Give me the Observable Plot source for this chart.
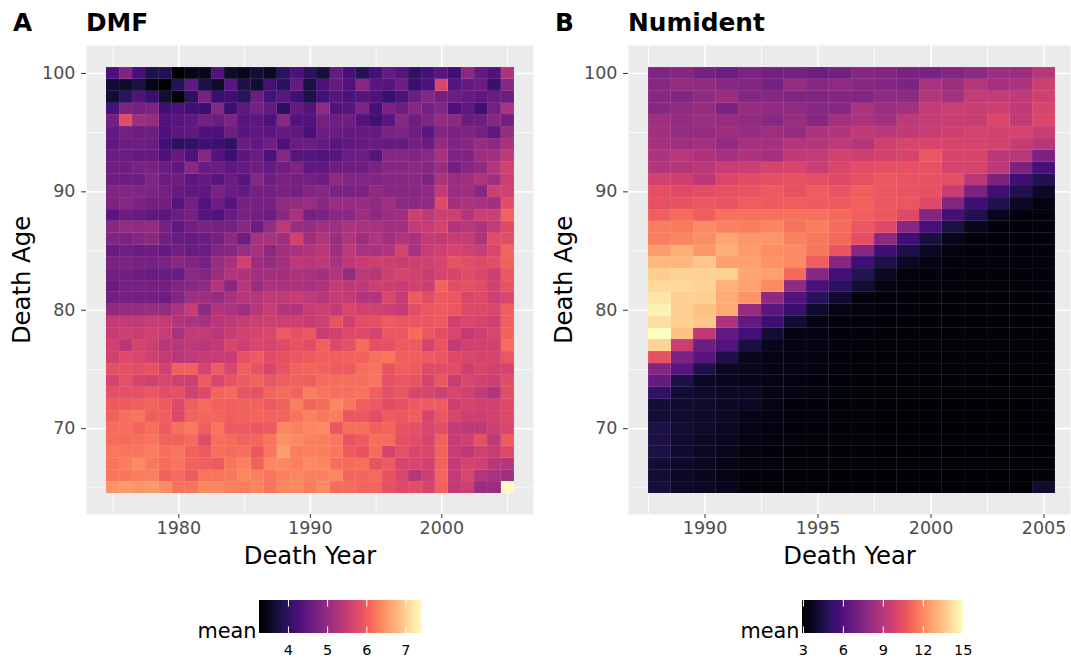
<!DOCTYPE html>
<html>
<head>
<meta charset="utf-8">
<script src="https://cdn.jsdelivr.net/npm/d3@7"></script>
<script src="https://cdn.jsdelivr.net/npm/@observablehq/plot@0.6"></script>
<style>
html,body{margin:0;padding:0;background:#fff;}
#page{position:relative;width:1071px;height:661px;overflow:hidden;font-family:"DejaVu Sans",sans-serif;}
#page>div{position:absolute;}
#page svg{display:block;background:transparent;overflow:visible;}
.ttl{font-weight:700;font-size:24.8px;line-height:28px;color:#000;white-space:nowrap;}
</style>
</head>
<body>
<div id="page"></div>
<script>
const ages = [100,99,98,97,96,95,94,93,92,91,90,89,88,87,86,85,84,83,82,81,80,79,78,77,76,75,74,73,72,71,70,69,68,67,66,65];
const dmfYears = [1975,1976,1977,1978,1979,1980,1981,1982,1983,1984,1985,1986,1987,1988,1989,1990,1991,1992,1993,1994,1995,1996,1997,1998,1999,2000,2001,2002,2003,2004,2005];
const numidentYears = [1988,1989,1990,1991,1992,1993,1994,1995,1996,1997,1998,1999,2000,2001,2002,2003,2004,2005];

const dmfRows = [
[4.25,4.8,4.2,3.8,3.85,3.27,3.45,3.5,4.3,3.6,3.5,3.65,3.55,3.95,4.25,3.95,3.7,4.5,4.2,3.9,4.2,4.5,4.35,4.0,4.2,4.4,4.15,4.9,4.5,4.3,5.25],
[3.65,3.6,3.75,3.45,3.3,3.9,4.45,3.8,3.6,4.4,3.8,3.65,4.2,3.95,4.5,3.75,4.25,4.5,4.3,4.85,4.4,4.35,4.6,4.1,4.25,5.7,4.35,4.5,4.6,4.1,4.85],
[3.65,3.95,4.3,4.1,3.65,3.35,3.95,4.7,4.1,4.15,3.95,4.6,4.2,4.4,4.15,3.8,4.2,4.35,4.25,4.35,4.3,4.05,4.25,4.6,4.85,4.7,4.6,4.5,4.45,4.55,4.6],
[4.2,4.77,4.67,4.77,4.15,4.27,4.15,4.1,4.85,4.1,4.47,4.67,4.52,3.95,4.52,4.32,4.95,4.32,4.37,4.77,4.2,4.72,4.62,4.85,4.67,4.8,4.27,4.47,4.15,4.67,5.25],
[4.67,5.8,5.1,5.0,4.32,4.37,4.47,4.67,4.57,4.77,4.37,4.42,4.27,4.85,4.32,4.32,4.67,4.62,4.62,4.32,4.15,4.37,4.85,4.62,4.77,5.0,4.9,4.57,4.62,4.85,4.67],
[4.52,4.67,4.57,4.62,4.27,4.42,4.47,4.27,4.27,4.62,4.37,4.47,4.42,4.52,4.47,4.22,4.62,4.57,4.52,4.52,4.52,4.72,4.77,4.62,4.42,4.8,4.72,4.77,4.67,4.47,5.0],
[4.47,4.57,4.62,4.57,4.15,3.95,4.0,4.15,4.1,4.0,4.57,4.47,4.62,4.27,4.57,4.57,4.52,4.37,4.47,4.52,4.57,4.52,4.52,4.67,4.57,5.0,4.77,4.85,5.0,4.9,5.2],
[4.57,4.57,4.52,4.52,4.27,4.52,4.27,4.85,4.32,4.1,4.42,4.57,4.27,4.85,4.37,4.37,4.32,4.37,4.57,4.57,4.37,4.85,4.85,4.77,4.9,5.2,4.77,4.77,5.1,5.15,5.4],
[4.62,4.62,4.72,4.72,4.57,4.47,4.9,4.57,4.57,4.47,4.52,4.62,4.52,4.62,4.77,4.47,4.47,4.62,4.62,4.62,4.72,4.85,4.85,4.9,4.85,5.05,4.67,4.85,4.95,5.3,5.6],
[4.62,4.62,4.57,4.77,4.57,4.62,4.42,4.52,4.37,4.57,4.37,4.85,4.62,4.72,4.67,4.67,4.57,4.95,4.8,4.8,4.8,4.85,4.85,4.9,4.77,5.25,5.05,5.1,5.3,5.15,5.55],
[4.8,4.8,4.8,4.77,4.67,4.52,4.47,4.47,4.72,4.57,4.52,4.67,4.67,4.72,4.67,4.8,4.85,4.72,4.72,4.72,4.95,4.85,4.85,4.85,4.95,5.45,5.05,5.1,4.85,5.55,5.6],
[4.75,4.85,4.75,4.65,4.65,4.35,4.65,4.3,4.6,4.35,4.7,4.7,4.7,4.95,5.0,5.05,4.85,5.05,5.0,5.0,4.95,5.1,4.9,4.9,4.95,5.75,5.15,5.25,5.2,5.15,5.8],
[4.4,4.6,4.55,4.45,4.4,4.6,4.7,4.35,4.3,4.55,4.7,4.65,4.6,4.9,5.2,4.7,4.75,4.85,4.85,5.1,4.9,5.05,5.1,5.55,5.4,5.55,5.55,5.3,5.55,5.55,6.04],
[4.85,5.0,4.95,5.0,4.7,4.45,4.65,4.75,4.7,4.7,4.85,4.6,5.0,5.4,5.05,5.0,5.15,5.1,5.25,5.2,5.2,5.1,5.15,5.45,5.5,5.65,5.3,5.35,5.25,5.45,5.75],
[4.8,4.75,4.85,4.9,4.65,4.55,4.5,4.6,4.7,4.9,4.6,5.2,5.2,5.1,5.6,5.1,5.3,5.05,5.3,5.1,5.3,5.15,5.3,5.2,5.45,5.45,5.5,5.5,5.25,5.8,5.8],
[4.55,4.65,4.55,4.6,4.5,4.65,4.55,4.6,4.8,4.85,5.05,5.2,4.9,5.15,5.2,5.3,5.35,5.1,5.4,5.2,5.2,5.3,5.65,5.2,5.5,5.6,5.65,5.6,5.5,5.7,6.08],
[4.75,4.75,4.7,4.7,4.75,4.9,4.8,4.7,5.05,5.2,5.6,5.1,5.0,5.15,5.4,5.35,5.4,5.2,5.4,5.5,5.55,5.55,5.5,5.55,5.6,5.65,5.88,5.8,5.75,5.8,6.04],
[4.65,4.65,4.6,4.55,4.55,4.55,4.9,4.8,5.05,5.3,5.25,5.15,5.15,5.15,5.25,5.2,5.15,5.3,5.0,5.4,5.35,5.55,5.65,5.6,5.5,5.65,5.65,5.8,5.7,5.55,5.92],
[4.55,4.7,4.7,4.7,4.65,4.8,4.85,4.95,5.3,4.85,5.35,5.05,5.25,5.2,5.25,5.2,5.25,5.45,5.4,5.4,5.55,5.55,5.5,5.6,5.55,6.04,5.8,5.84,5.8,5.6,5.88],
[4.65,4.7,4.65,4.65,4.6,4.8,5.1,5.1,5.0,5.2,5.35,5.35,5.4,5.4,5.5,5.4,5.35,5.5,5.45,5.3,5.3,5.7,5.45,5.96,5.8,5.96,5.92,5.7,5.75,5.55,5.7],
[4.95,5.0,5.0,5.05,5.0,5.25,5.5,4.9,5.3,5.25,5.1,5.35,5.5,5.3,5.3,5.5,5.55,5.45,5.7,5.6,5.6,5.55,5.45,5.8,5.92,5.96,5.92,5.75,5.75,5.7,6.0],
[5.45,5.45,5.4,5.5,5.45,5.3,5.25,5.2,5.35,5.4,5.5,5.55,5.55,5.55,5.55,5.5,5.55,5.88,5.6,5.8,5.84,5.96,5.92,5.92,5.92,5.96,5.6,5.7,5.65,5.55,6.0],
[5.5,5.55,5.5,5.6,5.5,5.2,5.45,5.45,5.35,5.5,5.6,5.65,5.7,5.96,5.84,5.92,5.5,5.6,5.75,5.75,5.65,5.92,5.92,6.12,5.92,5.8,5.7,5.45,5.55,5.7,6.04],
[5.6,5.35,5.65,5.55,5.35,5.35,5.4,5.35,5.45,5.7,5.55,5.7,5.65,5.75,5.88,5.8,6.0,5.75,5.84,6.12,5.84,5.84,5.96,5.96,5.65,5.88,5.45,5.6,5.6,5.6,6.12],
[5.6,5.75,5.7,5.6,5.45,5.35,5.4,5.45,5.5,5.5,5.84,5.96,5.8,5.84,5.92,5.96,6.0,6.0,6.04,6.04,6.16,6.2,6.0,6.0,5.96,5.92,5.75,5.7,5.65,5.65,5.92],
[5.84,5.84,5.8,5.88,5.6,6.0,6.0,5.65,5.96,5.7,6.0,5.88,5.7,5.88,6.04,6.08,6.04,5.96,5.96,6.16,6.2,5.88,6.0,5.96,5.75,5.8,5.8,5.55,5.7,5.6,5.65],
[5.65,5.84,5.65,5.6,5.7,5.6,5.55,5.96,5.7,5.88,5.96,6.04,5.92,6.0,6.04,6.0,6.12,6.16,6.16,6.16,6.2,5.84,5.92,5.88,5.65,5.92,5.5,5.7,5.6,5.55,5.8],
[5.84,5.84,5.84,5.92,5.8,5.84,5.6,5.75,6.08,6.12,5.88,5.84,6.08,6.12,6.08,6.28,6.2,6.16,6.16,6.2,6.0,5.84,5.92,5.7,5.7,5.55,5.7,5.6,5.45,5.3,5.8],
[5.96,5.96,6.0,6.08,5.96,5.75,6.0,6.12,6.04,6.0,6.04,6.04,5.96,6.04,6.32,6.08,6.12,6.36,6.24,6.0,5.96,5.8,5.84,5.96,5.96,5.96,5.55,5.65,5.6,5.6,5.75],
[6.04,6.16,6.2,6.0,6.0,5.75,6.08,6.08,6.08,6.0,6.04,6.08,6.08,6.08,6.2,6.32,6.24,6.28,5.92,5.92,5.8,5.96,5.92,6.0,5.7,5.92,5.7,5.55,5.55,5.6,5.75],
[6.16,6.16,6.08,6.16,5.96,6.16,6.24,6.0,6.2,5.96,5.96,5.92,5.96,6.36,6.32,6.36,6.4,5.92,6.16,6.16,6.0,6.08,5.88,5.84,5.7,5.8,5.45,5.4,5.4,5.55,5.7],
[6.12,6.12,6.16,6.2,6.04,6.04,6.12,5.8,6.16,6.12,6.04,6.08,6.2,6.44,6.4,6.32,6.28,6.24,5.88,5.96,6.16,6.12,5.84,5.8,5.65,6.04,5.5,5.6,5.84,5.4,5.96],
[6.24,6.2,6.2,6.28,6.16,6.2,6.04,5.96,6.16,6.12,6.16,5.92,6.24,6.56,6.28,6.32,6.28,6.24,5.96,5.88,6.12,5.65,5.84,5.7,5.7,6.04,5.5,5.4,5.6,5.5,5.75],
[6.24,6.28,6.4,6.24,6.12,6.2,6.04,6.0,5.96,6.2,6.32,6.04,6.36,6.36,6.28,6.4,6.36,6.16,6.12,6.16,5.88,5.96,5.65,5.7,5.6,6.04,5.45,5.65,5.6,5.35,5.35],
[6.24,6.24,6.28,6.32,6.04,6.12,5.96,6.2,6.2,6.24,6.36,6.28,6.2,6.32,6.36,6.32,6.32,6.36,6.08,6.08,6.12,5.88,5.7,5.35,5.55,6.08,5.45,5.7,5.3,5.2,5.1],
[6.48,6.52,6.48,6.52,6.4,6.2,6.2,6.36,6.36,6.32,6.28,6.36,6.2,6.36,6.4,6.28,6.4,6.12,6.12,6.08,6.08,5.84,5.75,5.8,5.65,6.04,5.45,5.55,5.05,5.05,7.41]
];

const numidentRows = [
[7.4,7.6,7.1,6.8,7.3,7.0,7.1,6.8,7.0,7.6,7.5,7.2,7.2,7.5,7.7,8.2,8.2,9.0],
[7.6,8.0,7.9,7.6,7.5,7.0,8.0,7.6,7.8,7.6,7.5,7.3,8.6,8.2,8.9,8.5,8.7,9.6],
[7.6,7.4,7.9,8.2,7.5,7.6,7.4,7.4,7.5,7.5,7.8,7.8,8.9,8.5,9.4,9.4,9.3,9.7],
[7.6,7.9,8.0,7.3,8.1,7.9,7.8,7.6,7.6,8.7,8.2,8.5,9.4,9.6,9.5,9.6,9.3,10.0],
[8.3,8.0,8.2,8.1,7.9,7.6,8.1,7.6,8.4,8.6,8.4,9.2,9.4,9.5,9.5,10.1,9.3,10.1],
[8.4,8.0,8.0,8.2,8.0,8.3,8.0,8.7,8.8,9.3,9.1,9.3,9.5,9.7,9.9,9.8,9.9,9.5],
[8.5,8.3,8.4,7.9,8.5,8.5,8.9,8.9,9.2,8.9,9.7,10.0,10.0,9.9,9.9,9.8,9.4,9.0],
[8.7,9.0,8.7,8.5,8.7,8.5,9.2,9.4,9.8,9.6,9.8,9.9,10.7,10.0,10.0,9.1,9.0,7.3],
[8.9,8.9,9.1,9.5,9.6,9.9,10.0,9.5,10.1,10.3,10.4,10.45,10.5,9.9,9.9,9.2,7.3,5.7],
[9.8,9.7,9.1,10.1,10.3,10.4,10.55,10.4,10.2,10.45,10.75,10.6,10.5,10.4,9.1,7.3,5.5,4.6],
[10.4,10.2,10.3,10.5,10.6,10.85,10.5,10.9,10.6,10.9,10.75,10.6,10.5,9.5,7.3,5.5,4.6,3.8],
[10.45,10.55,10.75,10.6,10.9,10.85,10.9,10.85,10.85,11.0,10.75,10.7,10.2,7.4,5.5,4.6,3.7,3.3],
[10.95,11.3,10.9,11.4,11.4,11.4,11.4,11.4,11.2,10.95,10.75,10.2,7.5,5.6,4.6,3.6,3.25,3.2],
[11.75,11.65,12.05,11.85,11.75,11.95,11.45,11.75,11.3,10.7,10.2,7.6,5.7,4.4,3.6,3.25,3.15,3.2],
[11.75,11.95,12.15,12.75,12.35,12.35,11.85,11.55,11.2,10.4,7.7,5.5,4.3,3.5,3.25,3.15,3.15,3.2],
[12.5,13.0,12.35,13.0,12.5,12.15,12.05,11.55,10.6,7.6,5.5,4.5,3.7,3.3,3.25,3.2,3.2,3.25],
[13.2,13.2,13.6,12.6,12.6,12.25,12.05,10.9,7.6,5.5,4.5,3.7,3.4,3.3,3.25,3.2,3.15,3.2],
[13.7,13.85,13.85,13.85,12.75,12.6,11.2,7.6,5.6,4.7,3.7,3.3,3.2,3.15,3.15,3.1,3.15,3.15],
[14.0,14.0,13.9,13.0,12.7,12.0,7.8,5.8,5.0,4.1,3.4,3.2,3.15,3.15,3.1,3.1,3.1,3.15],
[14.4,13.8,13.8,12.9,12.3,7.8,6.0,4.9,4.0,3.3,3.2,3.15,3.1,3.1,3.1,3.1,3.1,3.15],
[14.7,13.8,13.5,12.85,8.0,6.3,5.3,4.0,3.4,3.3,3.2,3.15,3.1,3.1,3.1,3.1,3.1,3.1],
[14.2,13.8,13.6,8.7,6.5,5.4,4.1,3.4,3.3,3.25,3.15,3.1,3.1,3.1,3.05,3.05,3.1,3.1],
[15.0,13.5,9.3,6.5,5.6,4.1,3.35,3.3,3.25,3.2,3.1,3.1,3.05,3.05,3.05,3.05,3.05,3.1],
[13.9,9.5,6.8,6.0,4.3,3.55,3.4,3.35,3.25,3.15,3.1,3.05,3.05,3.05,3.05,3.05,3.05,3.05],
[10.5,7.2,6.2,4.5,3.6,3.4,3.35,3.3,3.25,3.1,3.05,3.05,3.05,3.05,3.05,3.05,3.05,3.05],
[7.5,6.2,4.5,3.7,3.6,3.45,3.4,3.35,3.2,3.1,3.05,3.05,3.05,3.05,3.05,3.05,3.05,3.05],
[6.6,4.5,3.7,3.6,3.5,3.4,3.3,3.25,3.15,3.1,3.05,3.05,3.05,3.05,3.05,3.0,3.0,3.05],
[5.1,4.1,3.95,3.8,3.75,3.45,3.35,3.2,3.15,3.1,3.05,3.05,3.05,3.0,3.0,3.0,3.0,3.05],
[4.15,4.0,3.95,3.75,3.7,3.4,3.25,3.2,3.1,3.1,3.05,3.0,3.0,3.0,3.0,3.0,3.0,3.05],
[4.15,4.0,3.9,3.8,3.45,3.35,3.25,3.15,3.1,3.1,3.0,3.0,3.0,3.0,3.0,3.0,3.0,3.05],
[4.4,4.05,3.95,3.7,3.4,3.3,3.2,3.15,3.1,3.05,3.0,3.0,3.0,3.0,3.0,3.0,3.0,3.0],
[4.4,4.0,3.75,3.6,3.35,3.25,3.2,3.1,3.05,3.05,3.0,3.0,3.0,3.0,3.0,3.0,3.0,3.0],
[4.4,4.0,3.7,3.55,3.3,3.2,3.15,3.1,3.05,3.05,3.0,3.0,3.0,3.0,3.0,3.0,3.0,3.0],
[4.1,3.85,3.6,3.4,3.25,3.2,3.1,3.05,3.05,3.0,3.0,3.0,3.0,3.0,3.0,3.0,3.0,3.0],
[4.15,3.8,3.65,3.4,3.2,3.15,3.1,3.05,3.0,3.0,3.0,3.0,3.0,3.0,3.0,3.0,3.0,3.05],
[4.25,3.85,3.7,3.55,3.2,3.15,3.1,3.05,3.0,3.0,3.0,3.0,3.0,3.0,3.0,3.0,3.0,4.0]
];

const dmfXMajor = [1980,1990,2000], dmfXMinor = [1975,1985,1995,2005];
const numXMajor = [1990,1995,2000,2005], numXMinor = [1987.5,1992.5,1997.5,2002.5];
const yMajor = [70,80,90,100], yMinor = [65,75,85,95];
const dmfLegendTicks = [4,5,6,7], numLegendTicks = [3,6,9,12,15];

const font = '"DejaVu Sans", sans-serif';
const page = document.getElementById("page");
function place(node, left, top){
  const d = document.createElement("div");
  d.style.left = left + "px"; d.style.top = top + "px";
  d.appendChild(node); page.appendChild(d);
}
function title(txt, left, top){
  const d = document.createElement("div");
  d.className = "ttl"; d.textContent = txt;
  d.style.left = left + "px"; d.style.top = top + "px";
  page.appendChild(d);
}
function tidy(rows, years){
  return rows.flatMap((r,i)=>r.map((v,j)=>({age:ages[i],year:years[j],mean:v})));
}
function panel({rows,years,xDomain,colorDomain,xMajor,xMinor,width,marginLeft,marginRight}){
  return Plot.plot({
    width, height:580, marginLeft, marginRight, marginTop:45, marginBottom:66,
    style:{fontFamily:font,background:"transparent"},
    x:{domain:xDomain,label:null},
    y:{domain:[62.75,102.36],label:null},
    color:{type:"linear",scheme:"magma",domain:colorDomain},
    marks:[
      Plot.frame({fill:"#EBEBEB",stroke:null}),
      Plot.ruleX(xMinor,{stroke:"#fff",strokeWidth:0.8}),
      Plot.ruleY(yMinor,{stroke:"#fff",strokeWidth:0.8}),
      Plot.ruleX(xMajor,{stroke:"#fff",strokeWidth:1.6}),
      Plot.ruleY(yMajor,{stroke:"#fff",strokeWidth:1.6}),
      Plot.rect(tidy(rows,years),{
        x1:d=>d.year-0.5,x2:d=>d.year+0.5,y1:d=>d.age-0.5,y2:d=>d.age+0.5,
        fill:"mean",stroke:"#fff",strokeOpacity:0.09,strokeWidth:0.6,shapeRendering:"crispEdges"
      }),
      Plot.axisX({ticks:xMajor,tickFormat:"d",tickSize:4,tickPadding:3,fontSize:17.5,fill:"#4D4D4D",stroke:"#333",label:null}),
      Plot.axisY({ticks:yMajor,tickSize:5,tickPadding:6,fontSize:17.5,fill:"#4D4D4D",stroke:"#333",label:null}),
      Plot.text(["Death Year"],{frameAnchor:"bottom",dy:49,fontSize:24.3,fill:"#000"}),
      Plot.text(["Death Age"],{frameAnchor:"left",rotate:-90,dx:-64,textAnchor:"middle",fontSize:24.3,fill:"#000"})
    ]
  });
}
function legendBar({domain,ticks,width,marginLeft,marginRight,step}){
  const stops = d3.range(domain[0],domain[1],step);
  return Plot.plot({
    width, height:62, marginLeft, marginRight, marginTop:5, marginBottom:24,
    style:{fontFamily:font,background:"transparent"},
    x:{domain,label:null},
    y:{domain:[0,1],axis:null,label:null},
    color:{type:"linear",scheme:"magma",domain},
    marks:[
      Plot.rect(stops,{x1:d=>d,x2:d=>Math.min(d+step*1.5,domain[1]),y1:0,y2:1,fill:d=>d,shapeRendering:"crispEdges"}),
      Plot.ruleX(ticks,{y1:0,y2:0.2,stroke:"#fff",strokeWidth:1}),
      Plot.ruleX(ticks,{y1:0.8,y2:1,stroke:"#fff",strokeWidth:1}),
      Plot.axisX({ticks,tickFormat:d=>String(d),tickSize:0,tickPadding:11,fontSize:14.5,fill:"#000",label:null}),
      Plot.text(["mean"],{frameAnchor:"bottom-left",dx:-3,dy:4,textAnchor:"end",fontSize:20.8,fill:"#000"})
    ]
  });
}

place(panel({rows:dmfRows,years:dmfYears,xDomain:[1972.98,2006.97],colorDomain:[3.26,7.41],xMajor:dmfXMajor,xMinor:dmfXMinor,width:540,marginLeft:86,marginRight:7}),0,0);
place(panel({rows:numidentRows,years:numidentYears,xDomain:[1986.615,2006.17],colorDomain:[2.93,15.02],xMajor:numXMajor,xMinor:numXMinor,width:531,marginLeft:88,marginRight:1}),540,0);
place(legendBar({domain:[3.26,7.41],ticks:dmfLegendTicks,width:240,marginLeft:69,marginRight:8.5,step:0.02}),190,595);
place(legendBar({domain:[2.93,15.02],ticks:numLegendTicks,width:240,marginLeft:72,marginRight:7,step:0.06}),730,595);

title("A",13,9); title("DMF",86,9); title("B",555,9); title("Numident",628,9);
</script>
</body>
</html>
